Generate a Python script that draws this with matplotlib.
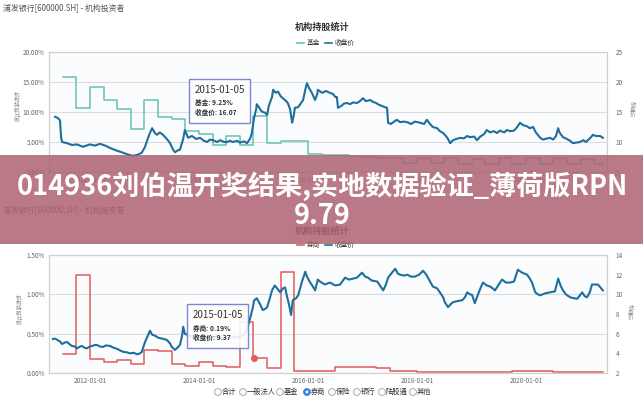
import numpy as np
import matplotlib
matplotlib.use("Agg")
import matplotlib.pyplot as plt
from matplotlib.patches import Rectangle, Circle

plt.rcParams['font.family'] = ['Noto Sans CJK SC', 'DejaVu Sans']
plt.rcParams['axes.unicode_minus'] = False

# ---------------- data ----------------
quarter_starts = [2011.5 + 0.25 * i for i in range(40)]
x_end = 2021.41

fund_pct = [15.8, 10.6, 14.1, 12.0, 10.5, 7.2, 12.0, 9.2, 8.8, 6.9,
            6.4, 4.5, 6.0, 4.5, 9.25, 4.8, 5.2, 5.1, 3.0, 2.8,
            2.8, 2.6, 2.5, 2.3, 2.3, 1.5, 2.3, 1.5, 2.3, 1.4,
            2.2, 1.4, 2.3, 1.4, 2.4, 1.4, 2.3, 1.4, 2.2, 1.4]

broker_pct = [0.24, 1.245, 0.18, 0.14, 0.17, 0.12, 0.29, 0.28, 0.11, 0.09,
              0.14, 0.09, 0.08, 0.65, 0.19, 0.06, 1.28, 0.03, 0.03, 0.03,
              0.08, 0.08, 0.08, 0.06, 0.03, 0.03, 0.01, 0.01, 0.01, 0.01,
              0.01, 0.01, 0.01, 0.03, 0.03, 0.03, 0.01, 0.01, 0.01, 0.01]

top_price_t = [2011.36, 2011.41, 2011.45, 2011.47, 2011.49, 2011.58, 2011.67, 2011.76, 2011.87, 2012.00,
               2012.09, 2012.18, 2012.28, 2012.37, 2012.48, 2012.61, 2012.70, 2012.79, 2012.88, 2012.95,
               2013.01, 2013.05, 2013.10, 2013.14, 2013.19, 2013.23, 2013.28, 2013.34, 2013.41, 2013.47,
               2013.52, 2013.56, 2013.61, 2013.65, 2013.71, 2013.74, 2013.80, 2013.87, 2013.95, 2014.02,
               2014.09, 2014.15, 2014.20, 2014.26, 2014.33, 2014.39, 2014.46, 2014.51, 2014.57, 2014.62,
               2014.70, 2014.75, 2014.83, 2014.88, 2014.94, 2014.97, 2015.01, 2015.05, 2015.06, 2015.10,
               2015.14, 2015.17, 2015.21, 2015.25, 2015.28, 2015.34, 2015.36, 2015.41, 2015.45, 2015.50,
               2015.54, 2015.60, 2015.63, 2015.67, 2015.71, 2015.74, 2015.76, 2015.82, 2015.85, 2015.91,
               2015.95, 2015.98, 2016.02, 2016.07, 2016.13, 2016.17, 2016.18, 2016.26, 2016.33, 2016.40,
               2016.46, 2016.50, 2016.53, 2016.55, 2016.61, 2016.66, 2016.72, 2016.77, 2016.83, 2016.90,
               2016.95, 2017.01, 2017.06, 2017.14, 2017.19, 2017.25, 2017.30, 2017.36, 2017.41, 2017.45,
               2017.47, 2017.52, 2017.58, 2017.63, 2017.69, 2017.76, 2017.82, 2017.89, 2017.96, 2018.06,
               2018.13, 2018.18, 2018.24, 2018.29, 2018.37, 2018.42, 2018.48, 2018.53, 2018.57, 2018.61,
               2018.66, 2018.72, 2018.79, 2018.86, 2018.92, 2018.97, 2019.05, 2019.10, 2019.16, 2019.23,
               2019.28, 2019.34, 2019.41, 2019.47, 2019.52, 2019.60, 2019.65, 2019.71, 2019.78, 2019.83,
               2019.89, 2019.95, 2020.02, 2020.07, 2020.13, 2020.18, 2020.26, 2020.31, 2020.39, 2020.44,
               2020.50, 2020.55, 2020.59, 2020.62, 2020.68, 2020.73, 2020.81, 2020.86, 2020.92, 2020.99,
               2021.05, 2021.10, 2021.17, 2021.23, 2021.28, 2021.36, 2021.41]
top_price = [14.2, 14.0, 13.6, 10.7, 10.0, 9.8, 9.5, 9.6, 9.2, 9.6,
             9.4, 9.7, 9.4, 9.0, 8.6, 8.2, 7.9, 7.7, 7.9, 8.2,
             9.2, 10.3, 11.5, 12.3, 11.5, 11.2, 11.6, 11.2, 10.5, 9.8,
             8.8, 8.3, 8.6, 8.7, 10.5, 12.0, 10.7, 11.0, 10.5, 10.7,
             10.2, 10.0, 10.4, 10.3, 10.0, 10.3, 10.0, 10.0, 10.2, 10.0,
             10.2, 9.9, 10.1, 9.8, 10.6, 11.5, 14.0, 15.5, 16.3, 15.8,
             15.2, 15.0, 14.9, 14.5, 16.0, 17.5, 18.7, 18.2, 18.4, 17.6,
             17.3, 16.8, 16.5, 15.5, 13.2, 14.5, 15.7, 15.8, 16.2, 17.0,
             18.7, 19.8, 19.0, 18.2, 17.0, 18.0, 18.7, 18.2, 18.5, 18.2,
             18.0, 17.5, 17.5, 15.7, 16.0, 16.4, 16.5, 16.3, 16.6, 16.5,
             16.8, 17.3, 16.8, 17.0, 16.7, 16.5, 16.2, 16.0, 15.8, 15.7,
             13.2, 13.0, 13.4, 13.7, 13.3, 13.4, 13.3, 13.0, 13.4, 13.2,
             13.0, 13.7, 13.0, 12.5, 12.3, 11.8, 11.5, 11.0, 10.5, 9.8,
             10.3, 10.5, 10.7, 10.6, 11.0, 10.8, 10.9, 10.3, 10.9, 11.3,
             12.0, 11.6, 11.8, 11.5, 11.9, 11.6, 12.0, 11.8, 11.9, 12.4,
             13.2, 12.8, 12.6, 12.3, 12.5, 11.6, 10.7, 10.4, 10.6, 10.7,
             10.4, 11.0, 12.3, 11.5, 10.8, 10.6, 10.2, 9.8, 9.9, 10.0,
             10.3, 10.0, 10.6, 11.2, 11.0, 11.0, 10.7]

bot_price_t = [2011.32, 2011.36, 2011.39, 2011.45, 2011.49, 2011.54, 2011.58, 2011.63, 2011.67, 2011.72,
               2011.76, 2011.82, 2011.85, 2011.91, 2011.94, 2012.00, 2012.04, 2012.09, 2012.13, 2012.18,
               2012.24, 2012.29, 2012.37, 2012.42, 2012.50, 2012.55, 2012.61, 2012.68, 2012.73, 2012.81,
               2012.86, 2012.92, 2012.95, 2013.01, 2013.06, 2013.10, 2013.14, 2013.19, 2013.25, 2013.28,
               2013.36, 2013.41, 2013.47, 2013.50, 2013.56, 2013.61, 2013.65, 2013.69, 2013.71, 2013.74,
               2013.78, 2013.83, 2013.89, 2013.96, 2014.02, 2014.09, 2014.17, 2014.24, 2014.31, 2014.39,
               2014.46, 2014.53, 2014.61, 2014.68, 2014.75, 2014.83, 2014.88, 2014.94, 2014.99, 2015.01,
               2015.06, 2015.12, 2015.17, 2015.21, 2015.25, 2015.30, 2015.34, 2015.39, 2015.45, 2015.49,
               2015.54, 2015.58, 2015.61, 2015.65, 2015.69, 2015.72, 2015.78, 2015.82, 2015.85, 2015.89,
               2015.95, 2015.98, 2016.04, 2016.09, 2016.13, 2016.18, 2016.22, 2016.31, 2016.40, 2016.50,
               2016.59, 2016.68, 2016.75, 2016.83, 2016.90, 2016.99, 2017.05, 2017.10, 2017.17, 2017.27,
               2017.32, 2017.38, 2017.43, 2017.47, 2017.54, 2017.60, 2017.65, 2017.69, 2017.76, 2017.82,
               2017.89, 2017.96, 2018.04, 2018.11, 2018.17, 2018.20, 2018.26, 2018.29, 2018.37, 2018.42,
               2018.48, 2018.51, 2018.57, 2018.62, 2018.66, 2018.73, 2018.83, 2018.88, 2018.92, 2018.97,
               2019.01, 2019.06, 2019.12, 2019.17, 2019.21, 2019.28, 2019.34, 2019.39, 2019.43, 2019.50,
               2019.56, 2019.63, 2019.71, 2019.78, 2019.85, 2019.93, 2020.02, 2020.07, 2020.11, 2020.17,
               2020.22, 2020.26, 2020.35, 2020.44, 2020.53, 2020.59, 2020.64, 2020.68, 2020.73, 2020.81,
               2020.88, 2020.94, 2020.99, 2021.03, 2021.08, 2021.12, 2021.17, 2021.21, 2021.27, 2021.32,
               2021.38, 2021.41]
bot_price = [5.46, 5.5, 5.4, 5.2, 4.95, 5.1, 5.15, 4.9, 4.75, 4.7,
             4.5, 4.7, 4.75, 4.55, 4.5, 4.7, 4.75, 4.85, 4.85, 4.7,
             4.65, 4.8, 4.75, 4.6, 4.45, 4.3, 4.15, 4.1, 4.0, 4.05,
             3.9, 4.0, 4.15, 5.15, 5.8, 6.3, 5.9, 5.8, 5.6, 5.55,
             5.45, 5.36, 5.0, 4.65, 4.35, 4.6, 4.85, 5.8, 6.7, 6.0,
             5.9, 5.8, 5.7, 5.6, 5.8, 5.5, 5.6, 5.4, 5.7, 5.5,
             5.6, 5.5, 5.7, 5.6, 5.7, 5.9, 6.4, 7.6, 8.7, 9.37,
             9.6, 9.0, 8.4, 8.5, 8.7, 9.6, 10.4, 10.9, 10.5, 10.2,
             10.6, 10.7, 9.9, 9.0, 7.9, 9.4, 9.6, 9.9, 10.5, 11.3,
             12.3, 11.8, 11.2, 10.8, 10.4, 11.5, 11.3, 11.0, 11.2, 10.9,
             11.0, 11.7, 11.5, 11.6, 11.7, 12.2, 11.8, 11.7, 11.4, 11.3,
             10.9, 10.4, 11.0, 11.7, 12.2, 12.6, 12.1, 12.0, 11.9, 12.0,
             11.8, 11.8, 12.0, 12.4, 12.0, 11.7, 11.1, 10.8, 10.6, 10.2,
             9.7, 9.2, 8.7, 9.0, 9.2, 9.3, 9.4, 9.7, 10.2, 10.0,
             9.95, 9.1, 10.0, 10.7, 11.2, 10.9, 10.8, 10.6, 10.4, 11.0,
             11.5, 11.2, 11.2, 11.3, 12.5, 12.2, 12.0, 11.6, 11.2, 10.2,
             10.0, 9.9, 10.1, 10.2, 10.3, 11.6, 10.8, 10.4, 10.0, 9.7,
             9.6, 9.55, 9.9, 10.2, 9.8, 9.7, 10.2, 11.0, 11.0, 11.0,
             10.6, 10.4]

xtick_years = [2012, 2014, 2016, 2018, 2020]
xtick_labels = ['2012-01-01', '2014-01-01', '2016-01-01', '2018-01-01', '2020-01-01']
radio_labels = ['合计', '一般法人', '基金', '券商', '保险', '银行', '陆股通', '其他']

# ---------------- styling ----------------
TEAL = '#64c2b5'
BLUE = '#1f6f9c'
RED = '#e25c5c'
GRID = '#dcdcdc'
TICK = '#666666'

W, H = 643, 400
fig = plt.figure(figsize=(W / 100, H / 100), dpi=100)
fig.patch.set_facecolor('white')


def px_axes(left, top, right, bottom):
    return fig.add_axes([left / W, 1 - bottom / H, (right - left) / W, (bottom - top) / H])


def style(ax, ax2, ylim, yticks, yfmt, ylim2, yticks2):
    ax.set_xlim(2011.248, 2021.486)
    ax.set_ylim(*ylim)
    ax.set_yticks(yticks)
    ax.set_yticklabels([yfmt.format(v) for v in yticks])
    ax.set_xticks(xtick_years)
    ax.set_xticklabels(xtick_labels)
    ax.set_facecolor('#fbfcfd')
    ax.grid(axis='y', color=GRID, lw=0.8)
    ax.set_axisbelow(True)
    ax.tick_params(length=0, labelsize=4.6, colors=TICK, pad=3)
    ax2.set_ylim(*ylim2)
    ax2.set_yticks(yticks2)
    ax2.set_yticklabels([str(v) for v in yticks2])
    ax2.tick_params(length=0, labelsize=4.6, colors=TICK, pad=6)
    for a in (ax, ax2):
        for s in a.spines.values():
            s.set_color('#d0d0d0')
            s.set_linewidth(0.8)


# top chart (its date labels sit beneath the banner, as in the screenshot)
ax1 = px_axes(49, 52, 607, 172)
ax1b = ax1.twinx()
ax1.step(quarter_starts + [x_end], fund_pct + [fund_pct[-1]], where='post', color=TEAL, lw=1.1)
ax1b.plot(top_price_t, top_price, color=BLUE, lw=1.5)
style(ax1, ax1b, (0, 20), [0, 5, 10, 15, 20], '{:.2f}%', (5, 25), [5, 10, 15, 20, 25])

# bottom chart
ax2 = px_axes(49, 255, 607, 373)
ax2b = ax2.twinx()
ax2.step(quarter_starts + [x_end], broker_pct + [broker_pct[-1]], where='post', color=RED, lw=1.1)
ax2b.plot(bot_price_t, bot_price, color=BLUE, lw=1.5)
style(ax2, ax2b, (0, 1.5), [0, 0.5, 1.0, 1.5], '{:.2f}%', (2, 14), [2, 4, 6, 8, 10, 12, 14])
ax2b.plot([2015.01], [2.0 + broker_pct[14] / 1.5 * 12], 'o', color=RED, ms=4, zorder=5)

# ---------------- overlay (pixel coordinates) ----------------
ov = fig.add_axes([0, 0, 1, 1])
ov.set_xlim(0, W)
ov.set_ylim(H, 0)
ov.axis('off')
ov.set_zorder(10)
ov.patch.set_alpha(0)

title_txt = '浦发银行[600000.SH] - 机构投资者'
for y0 in (8, 210):
    ov.text(3, y0, title_txt, fontsize=5.7, color='#555555', va='center', ha='left')
for y0 in (27, 231):
    ov.text(322, y0, '机构持股统计', fontsize=6.6, color='#333333', va='center', ha='center',
            fontweight='bold')


def legend(y0, name, color):
    ov.plot([297, 304], [y0, y0], color=color, lw=1.2)
    ov.text(307, y0, name, fontsize=4.8, color='#333333', va='center', ha='left')
    ov.plot([325, 332], [y0, y0], color=BLUE, lw=1.2)
    ov.text(335, y0, '收盘价', fontsize=4.8, color='#333333', va='center', ha='left')


legend(43, '基金', TEAL)
legend(245, '券商', RED)


def vlabel(x, yc, s):
    ov.text(x, yc, '\n'.join(s), fontsize=4.0, color='#888888', va='center', ha='center',
            linespacing=0.95)


vlabel(17, 108, '机构持股比例')
vlabel(633, 110, '收盘价')
vlabel(19, 311, '机构持股比例')
vlabel(631, 313, '收盘价')


def tooltip(x0, y0, x1, y1, lines):
    ov.add_patch(Rectangle((x0, y0), x1 - x0, y1 - y0, facecolor='white', alpha=0.88,
                           edgecolor='#6a78d0', lw=1.0, zorder=3))
    ov.text(x0 + 6, y0 + 11, '2015-01-05', fontsize=7, color='#333333', va='center', zorder=4)
    ov.text(x0 + 6, y0 + 24, lines[0], fontsize=4.8, color='#333333', va='center',
            fontweight='bold', zorder=4)
    ov.text(x0 + 6, y0 + 33, lines[1], fontsize=4.8, color='#333333', va='center',
            fontweight='bold', zorder=4)


tooltip(189, 79, 250, 123, ['基金: 9.25%', '收盘价: 16.07'])
tooltip(187, 304, 248, 348, ['券商: 0.19%', '收盘价: 9.37'])

# radio buttons
radio_x = [218, 243, 280, 307, 332, 357, 382, 413]
for rx, lab in zip(radio_x, radio_labels):
    sel = lab == '券商'
    ov.add_patch(Circle((rx, 392), 3.4, facecolor='#3a82e0' if sel else 'white',
                        edgecolor='#3a82e0' if sel else '#aaaaaa', lw=0.7))
    if sel:
        ov.add_patch(Circle((rx, 392), 1.4, facecolor='white', edgecolor='none'))
    ov.text(rx + 4, 392, lab, fontsize=5.2, color='#333333', va='center', ha='left')

# banner
ov.add_patch(Rectangle((0, 155), W, 89, facecolor='#ad6272', alpha=0.85, edgecolor='none', zorder=6))
ov.text(322, 186, '014936刘伯温开奖结果,实地数据验证_薄荷版RPN', fontsize=19.5, color='white',
        fontweight='bold', ha='center', va='center', zorder=7)
ov.text(322, 216, '9.79', fontsize=19.5, color='white', fontweight='bold', ha='center',
        va='center', zorder=7)

fig.savefig('out.png', dpi=100)
